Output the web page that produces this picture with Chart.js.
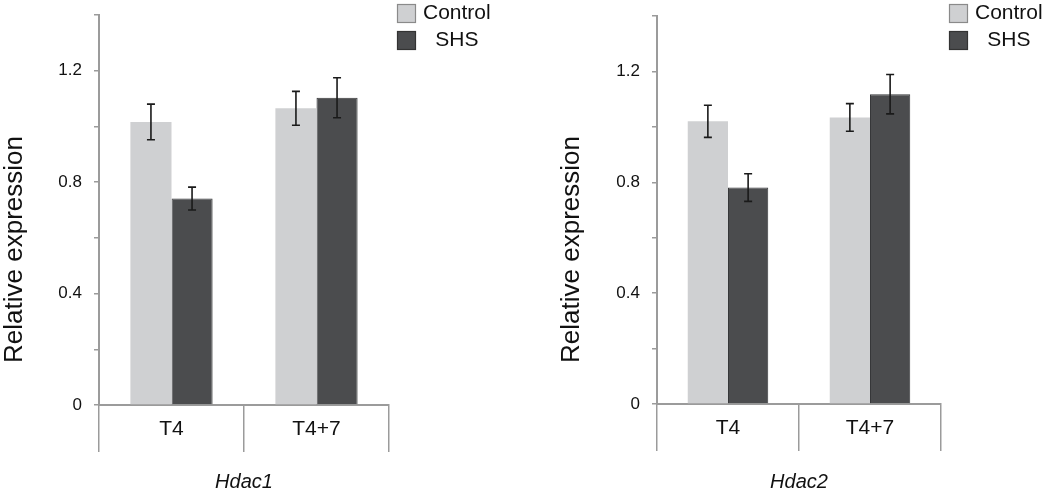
<!DOCTYPE html>
<html>
<head>
<meta charset="utf-8">
<script src="https://cdn.jsdelivr.net/npm/chart.js@4.4.1/dist/chart.umd.min.js"></script>
<style>
    html, body { margin: 0; padding: 0; background: #ffffff; }
    body { width: 1050px; height: 495px; position: relative; overflow: hidden; }
    canvas { position: absolute; top: 0; }
    #chartHdac1 { left: 0; }
    #chartHdac2 { left: 557px; }
</style>
</head>
<body>
<canvas id="chartHdac1" width="557" height="495"></canvas>
<canvas id="chartHdac2" width="493" height="495"></canvas>
<script>
// datos
var categorias = ['T4', 'T4+7'];
var series = ['Control', 'SHS'];

var hdac1Control = [1.016, 1.065];
var hdac1ControlErr = [0.064, 0.061];
var hdac1Shs = [0.741, 1.103];
var hdac1ShsErr = [0.041, 0.072];

var hdac2Control = [1.020, 1.034];
var hdac2ControlErr = [0.058, 0.050];
var hdac2Shs = [0.781, 1.118];
var hdac2ShsErr = [0.050, 0.071];

var ticksY = [0, 0.4, 0.8, 1.2];
var tituloY = 'Relative expression';

var FUENTE = "'Liberation Sans', Arial, sans-serif";
var GRIS = '#9b9b9b';
var colorControl = '#cfd0d2';
var colorShs = '#4b4c4e';

// barras de error dibujadas con la escala y del grafico
var pluginErrores = {
    id: 'errores',
    afterDatasetsDraw: function (chart) {
        var ctx = chart.ctx;
        var escalaY = chart.scales.y;
        ctx.save();
        ctx.strokeStyle = '#1a1a1a';
        ctx.lineWidth = 1.6;
        chart.data.datasets.forEach(function (ds, i) {
            var meta = chart.getDatasetMeta(i);
            meta.data.forEach(function (barra, j) {
                var v = ds.data[j];
                var e = ds.errores[j];
                var yArriba = escalaY.getPixelForValue(v + e);
                var yAbajo = escalaY.getPixelForValue(v - e);
                ctx.beginPath();
                ctx.moveTo(barra.x, yArriba);
                ctx.lineTo(barra.x, yAbajo);
                ctx.moveTo(barra.x - 4, yArriba);
                ctx.lineTo(barra.x + 4, yArriba);
                ctx.moveTo(barra.x - 4, yAbajo);
                ctx.lineTo(barra.x + 4, yAbajo);
                ctx.stroke();
            });
        });
        ctx.restore();
    }
};

// leyenda a la derecha del area del grafico y titulo del eje y centrado en el lienzo
var pluginLeyenda = {
    id: 'leyendaPropia',
    afterDraw: function (chart) {
        var ctx = chart.ctx;
        var x0 = chart.chartArea.right + 8;
        var bordes = ['#8a8a8a', '#333333'];
        ctx.save();
        ctx.font = '21px ' + FUENTE;
        ctx.textBaseline = 'middle';
        var anchoControl = ctx.measureText(series[0]).width;
        var centroTexto = x0 + 19 + 7 + anchoControl / 2;
        chart.data.datasets.forEach(function (ds, i) {
            var y0 = 4 + i * 27;
            ctx.fillStyle = ds.backgroundColor;
            ctx.fillRect(x0, y0, 19, 19);
            ctx.strokeStyle = bordes[i];
            ctx.lineWidth = 1.2;
            ctx.strokeRect(x0 + 0.5, y0 + 0.5, 18, 18);
            ctx.fillStyle = '#111111';
            ctx.textAlign = 'center';
            ctx.fillText(ds.label, centroTexto, y0 + 9.5);
        });

        // titulo del eje y
        ctx.translate(15, chart.height / 2 + 2);
        ctx.rotate(-Math.PI / 2);
        ctx.font = '26px ' + FUENTE;
        ctx.textAlign = 'center';
        ctx.fillStyle = '#111111';
        ctx.fillText(tituloY, 0, 0);
        ctx.restore();
    }
};

function crearGrafico(id, nombreGen, control, controlErr, shs, shsErr, izquierda, derecha, arriba, abajo) {
    var ctx = document.getElementById(id).getContext('2d');
    var alto = ctx.canvas.height;
    return new Chart(ctx, {
        type: 'bar',
        data: {
            labels: categorias,
            datasets: [{
                label: series[0],
                data: control,
                errores: controlErr,
                backgroundColor: colorControl,
                borderWidth: 0,
                categoryPercentage: 0.567,
                barPercentage: 1.0
            }, {
                label: series[1],
                data: shs,
                errores: shsErr,
                backgroundColor: colorShs,
                borderColor: '#363739',
                borderWidth: 1,
                categoryPercentage: 0.567,
                barPercentage: 1.0
            }]
        },
        options: {
            responsive: false,
            animation: false,
            devicePixelRatio: 1,
            layout: {
                padding: { left: 0, top: arriba, right: ctx.canvas.width - derecha, bottom: 0 }
            },
            plugins: {
                legend: { display: false },
                tooltip: { enabled: false }
            },
            scales: {
                x: {
                    afterFit: function (escala) {
                        escala.height = alto - abajo;
                        escala.paddingLeft = 0;
                        escala.paddingRight = 0;
                    },
                    border: { display: true, color: GRIS, width: 2 },
                    grid: {
                        offset: true,
                        drawOnChartArea: false,
                        drawTicks: true,
                        tickLength: 47,
                        color: GRIS,
                        lineWidth: 1.5
                    },
                    ticks: {
                        padding: -35,
                        color: '#111111',
                        font: { family: FUENTE, size: 21 }
                    },
                    title: {
                        display: true,
                        text: nombreGen,
                        color: '#111111',
                        padding: { top: 0, bottom: 1 },
                        font: { family: FUENTE, size: 20, style: 'italic' }
                    }
                },
                y: {
                    min: 0,
                    max: 1.4,
                    afterFit: function (escala) {
                        escala.width = izquierda;
                        escala.paddingTop = 0;
                        escala.paddingBottom = 0;
                    },
                    border: { display: true, color: GRIS, width: 2 },
                    grid: {
                        drawOnChartArea: false,
                        drawTicks: true,
                        tickLength: 5,
                        color: GRIS,
                        lineWidth: 1.5
                    },
                    ticks: {
                        stepSize: 0.2,
                        padding: 12,
                        color: '#111111',
                        font: { family: FUENTE, size: 17 },
                        callback: function (valor) {
                            for (var k = 0; k < ticksY.length; k++) {
                                if (Math.abs(ticksY[k] - valor) < 1e-6) return String(ticksY[k]);
                            }
                            return '';
                        }
                    },
                    title: { display: false }
                }
            }
        },
        plugins: [pluginErrores, pluginLeyenda]
    });
}

crearGrafico('chartHdac1', 'Hdac1', hdac1Control, hdac1ControlErr, hdac1Shs, hdac1ShsErr, 99, 389, 15, 405);
crearGrafico('chartHdac2', 'Hdac2', hdac2Control, hdac2ControlErr, hdac2Shs, hdac2ShsErr, 100, 384, 16, 404);
</script>
</body>
</html>
